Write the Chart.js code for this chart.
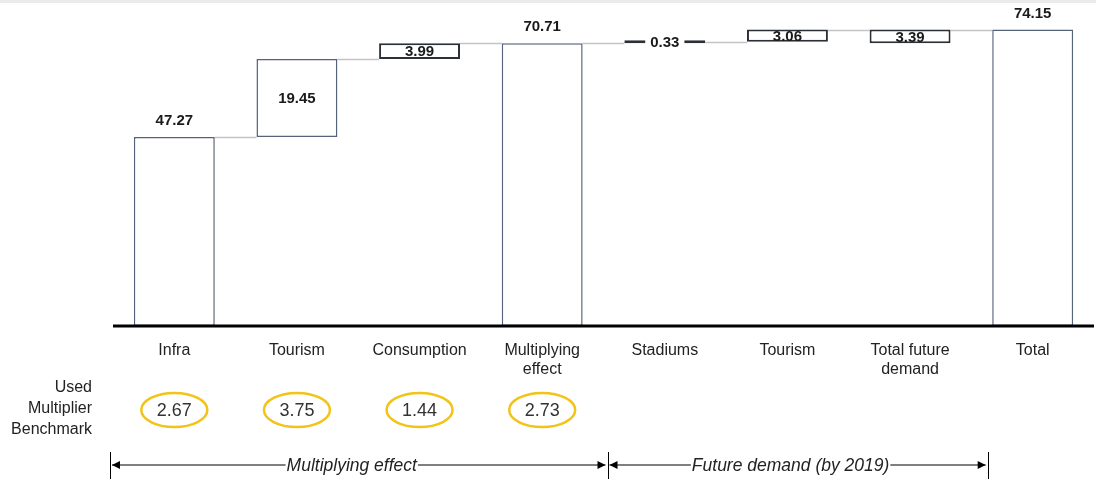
<!DOCTYPE html>
<html>
<head>
<meta charset="utf-8">
<script src="https://cdn.jsdelivr.net/npm/chart.js@4.4.0/dist/chart.umd.min.js"></script>
<style>
  html, body { margin: 0; padding: 0; background: #fff; }
  #wrap { position: relative; width: 1096px; height: 483px; }
</style>
</head>
<body>
<div id="wrap"><canvas id="chart" width="1096" height="483"></canvas></div>
<script>
  // waterfall data (values in the reference units)
  const categories = [['Infra'], ['Tourism'], ['Consumption'], ['Multiplying', 'effect'], ['Stadiums'], ['Tourism'], ['Total future', 'demand'], ['Total']];
  const barStarts = [0, 47.27, 66.72, 0, 70.71, 71.04, 70.71, 0];
  const barEnds = [47.27, 66.72, 70.71, 70.71, 71.04, 74.10, 74.10, 74.15];
  const valueLabels = ['47.27', '19.45', '3.99', '70.71', '0.33', '3.06', '3.39', '74.15'];
  const labelInside = [false, true, true, false, true, true, true, false];
  const multipliers = ['2.67', '3.75', '1.44', '2.73'];
  const multiplierTitle = ['Used', 'Multiplier', 'Benchmark'];
  const sectionNames = ['Multiplying effect', 'Future demand (by 2019)'];

  const FONT = '"Liberation Sans", Arial, sans-serif';

  function arrowHead(ctx, x, y, dir) {
    ctx.beginPath();
    ctx.moveTo(x, y);
    ctx.lineTo(x - dir * 8, y - 4);
    ctx.lineTo(x - dir * 8, y + 4);
    ctx.closePath();
    ctx.fill();
  }

  const overlay = {
    id: 'overlay',
    beforeDraw(chart) {
      const ctx = chart.ctx;
      ctx.save();
      ctx.fillStyle = '#ebebeb';
      ctx.fillRect(0, 0, chart.width, 3);
      ctx.restore();
    },
    beforeDatasetsDraw(chart) {
      // connector lines between bars
      const ctx = chart.ctx;
      const meta = chart.getDatasetMeta(0);
      const y = chart.scales.y;
      ctx.save();
      ctx.strokeStyle = '#c4c4c4';
      ctx.lineWidth = 1.5;
      for (let i = 0; i < meta.data.length - 1; i++) {
        const a = meta.data[i], b = meta.data[i + 1];
        const py = Math.round(y.getPixelForValue(barEnds[i])) + 0.5;
        ctx.beginPath();
        ctx.moveTo(a.x + a.width / 2, py);
        ctx.lineTo(b.x - b.width / 2, py);
        ctx.stroke();
      }
      ctx.restore();
    },
    afterDatasetsDraw(chart) {
      const ctx = chart.ctx;
      const meta = chart.getDatasetMeta(0);
      const x = chart.scales.x;
      const area = chart.chartArea;
      ctx.save();

      // value labels
      ctx.font = 'bold 15px ' + FONT;
      ctx.textAlign = 'center';
      ctx.textBaseline = 'middle';
      meta.data.forEach((bar, i) => {
        const top = Math.min(bar.y, bar.base);
        const bottom = Math.max(bar.y, bar.base);
        let ty;
        if (labelInside[i]) {
          ty = (top + bottom) / 2 + 1;
          if (bottom - top < 10) {
            const w = ctx.measureText(valueLabels[i]).width;
            ctx.fillStyle = '#fff';
            ctx.fillRect(bar.x - w / 2 - 5, ty - 8, w + 10, 16);
          }
        } else {
          ty = top - 16;
        }
        ctx.fillStyle = '#1a1a1a';
        ctx.fillText(valueLabels[i], bar.x, ty);
      });

      // baseline
      ctx.strokeStyle = '#000';
      ctx.lineWidth = 3;
      ctx.beginPath();
      ctx.moveTo(area.left, area.bottom);
      ctx.lineTo(area.right, area.bottom);
      ctx.stroke();

      // category labels
      ctx.font = '16px ' + FONT;
      ctx.fillStyle = '#222';
      categories.forEach((lines, i) => {
        const cx = x.getPixelForValue(i);
        lines.forEach((t, j) => ctx.fillText(t, cx, area.bottom + 25 + j * 19));
      });

      // multiplier benchmark row
      ctx.textAlign = 'right';
      multiplierTitle.forEach((t, j) => ctx.fillText(t, 92, 388 + j * 21));
      ctx.textAlign = 'center';
      multipliers.forEach((m, i) => {
        const cx = x.getPixelForValue(i);
        ctx.strokeStyle = '#f2c318';
        ctx.lineWidth = 2.5;
        ctx.beginPath();
        ctx.ellipse(cx, 410, 33, 17, 0, 0, Math.PI * 2);
        ctx.stroke();
        ctx.fillStyle = '#333';
        ctx.font = '18px ' + FONT;
        ctx.fillText(m, cx, 411);
      });

      // section arrows
      const step = x.getPixelForValue(1) - x.getPixelForValue(0);
      const ticks = [area.left - 3, x.getPixelForValue(3) + step / 2 + 4, x.getPixelForValue(7) - 45];
      const ay = 465;
      ctx.strokeStyle = '#000';
      ctx.fillStyle = '#000';
      ctx.lineWidth = 1;
      ticks.forEach((tx) => {
        ctx.beginPath();
        ctx.moveTo(Math.round(tx) + 0.5, 452);
        ctx.lineTo(Math.round(tx) + 0.5, 479);
        ctx.stroke();
      });
      ctx.font = 'italic 17.5px ' + FONT;
      sectionNames.forEach((name, k) => {
        const x0 = ticks[k] + 2, x1 = ticks[k + 1] - 2;
        ctx.lineWidth = 1.2;
        ctx.beginPath();
        ctx.moveTo(x0, ay);
        ctx.lineTo(x1, ay);
        ctx.stroke();
        arrowHead(ctx, x0, ay, -1);
        arrowHead(ctx, x1, ay, 1);
        const mid = (x0 + x1) / 2 - 7;
        const w = ctx.measureText(name).width;
        ctx.fillStyle = '#fff';
        ctx.fillRect(mid - w / 2 - 1, ay - 10, w + 2, 20);
        ctx.fillStyle = '#222';
        ctx.fillText(name, mid, ay + 1);
        ctx.fillStyle = '#000';
      });

      ctx.restore();
    }
  };

  // short increments get the darker, heavier outline seen in the reference
  const borderColors = valueLabels.map((v, i) => (barEnds[i] - barStarts[i] < 5 ? '#2b2f36' : '#55637a'));
  const borderWidths = valueLabels.map((v, i) => (barEnds[i] - barStarts[i] < 5 ? 2 : 1.5));

  new Chart(document.getElementById('chart'), {
    type: 'bar',
    data: {
      labels: categories.map((c) => c.join(' ')),
      datasets: [{
        data: barStarts.map((s, i) => [s, barEnds[i]]),
        backgroundColor: '#ffffff',
        borderColor: borderColors,
        borderWidth: borderWidths,
        borderSkipped: false,
        minBarLength: 3,
        barPercentage: 0.66,
        categoryPercentage: 1
      }]
    },
    options: {
      responsive: false,
      animation: false,
      layout: { padding: { left: 113, right: 2, top: 6, bottom: 157 } },
      plugins: { legend: { display: false }, tooltip: { enabled: false } },
      scales: {
        x: { display: false },
        y: { display: false, min: 0, max: 80 }
      }
    },
    plugins: [overlay]
  });
</script>
</body>
</html>
